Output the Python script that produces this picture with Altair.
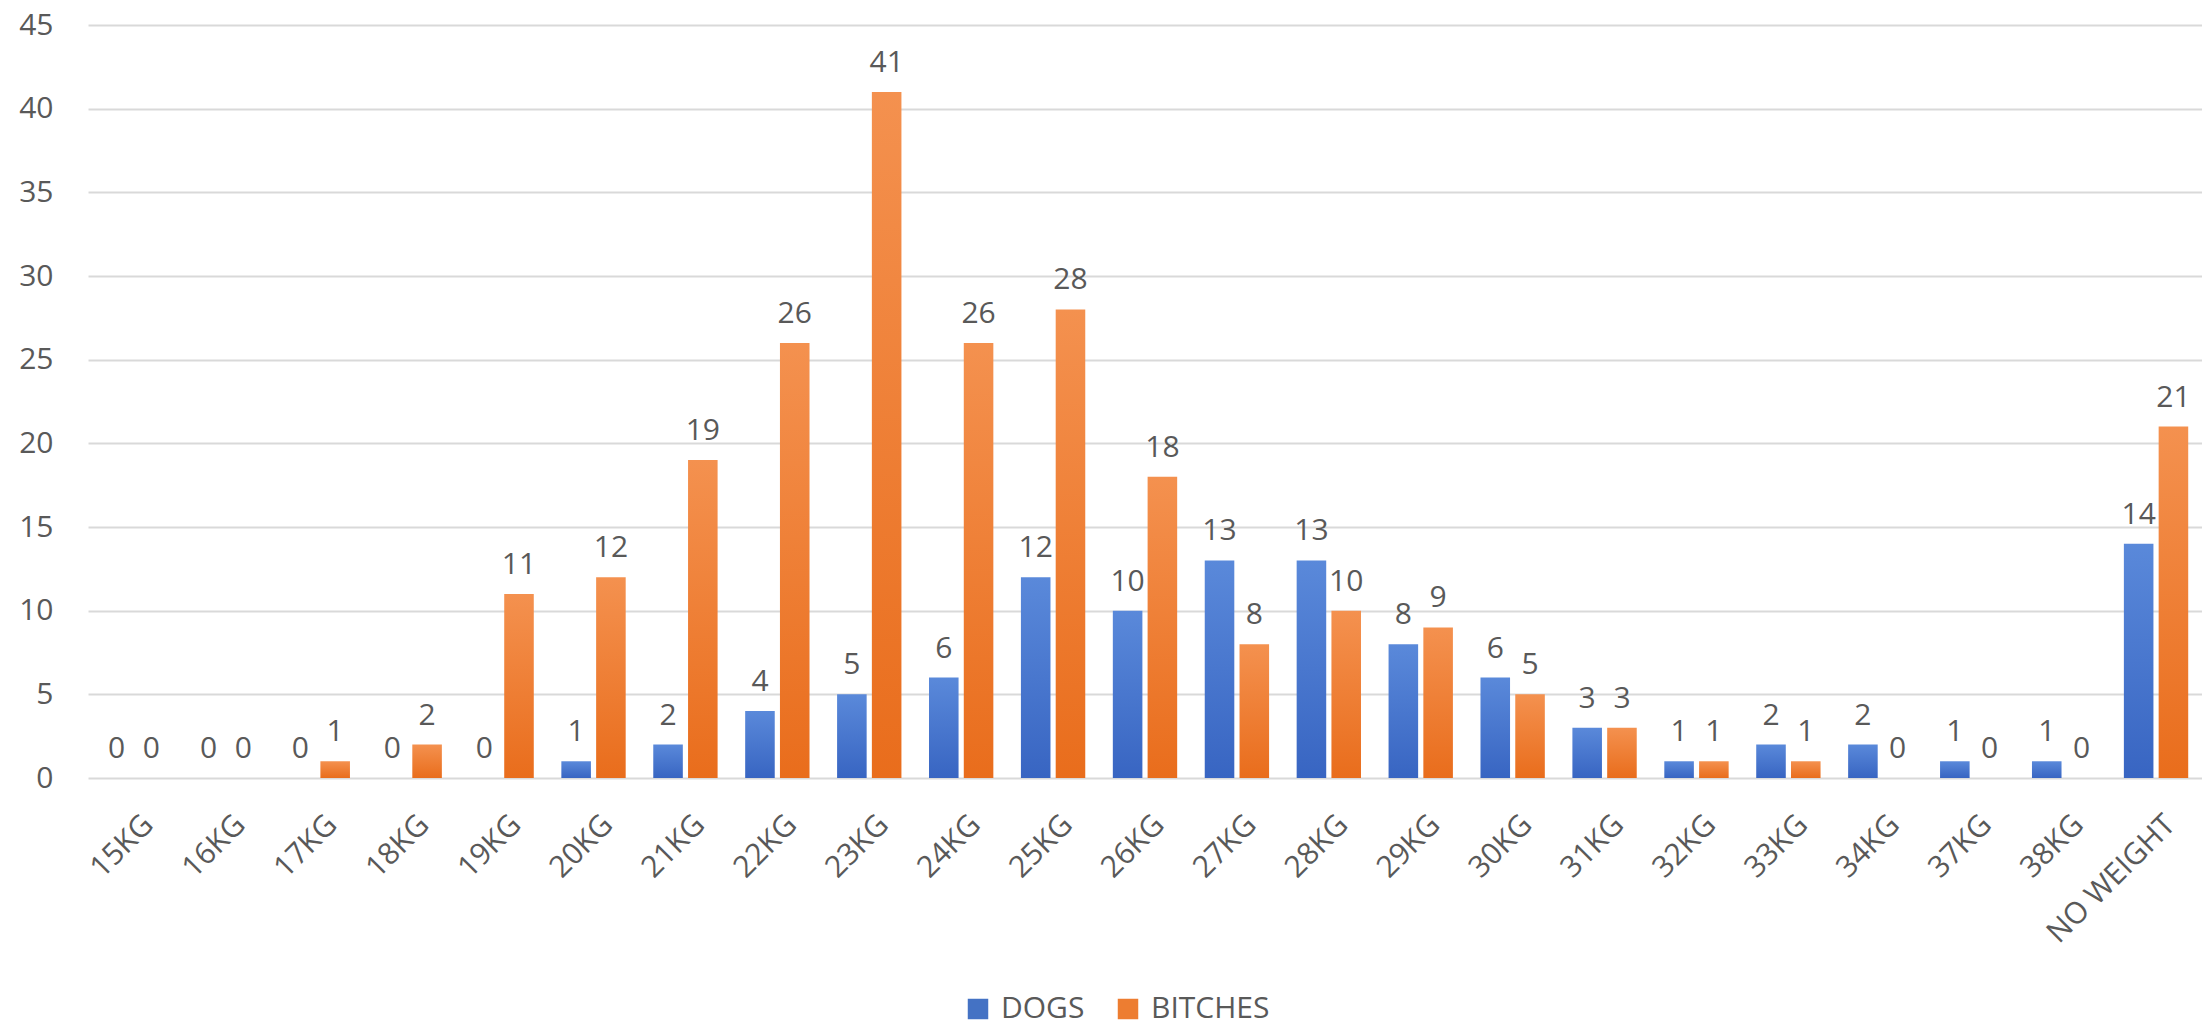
import altair as alt
import pandas as pd

categories = ["15KG", "16KG", "17KG", "18KG", "19KG", "20KG", "21KG", "22KG", "23KG",
              "24KG", "25KG", "26KG", "27KG", "28KG", "29KG", "30KG", "31KG", "32KG",
              "33KG", "34KG", "37KG", "38KG", "NO WEIGHT"]
dogs = [0, 0, 0, 0, 0, 1, 2, 4, 5, 6, 12, 10, 13, 13, 8, 6, 3, 1, 2, 2, 1, 1, 14]
bitches = [0, 0, 1, 2, 11, 12, 19, 26, 41, 26, 28, 18, 8, 10, 9, 5, 3, 1, 1, 0, 0, 0, 21]
series = ["DOGS", "BITCHES"]
y_ticks = [0, 5, 10, 15, 20, 25, 30, 35, 40, 45]

rows = []
for c, d, b in zip(categories, dogs, bitches):
    rows.append({"cat": c, "series": "DOGS", "value": d})
    rows.append({"cat": c, "series": "BITCHES", "value": b})
df = pd.DataFrame(rows)

FONT = "Open Sans"
TXT = "#595959"
FS = 30

x_enc = alt.X("cat:N", sort=categories,
              scale=alt.Scale(paddingInner=0.3, paddingOuter=0.15),
              axis=alt.Axis(title=None, labelAngle=-45, labelFontSize=FS, labelColor=TXT,
                            labelFont=FONT, ticks=False, domain=False, grid=False,
                            labelPadding=31, labelOffset=4))
y_enc = alt.Y("value:Q",
              scale=alt.Scale(domain=[0, 45], nice=False),
              axis=alt.Axis(title=None, values=y_ticks, labelFontSize=FS, labelColor=TXT,
                            labelFont=FONT, ticks=False, domain=False, grid=True,
                            gridColor="#d9d9d9", gridWidth=2, labelPadding=35))
xoff = alt.XOffset("series:N", sort=series,
                   scale=alt.Scale(domain=series, paddingInner=0.15, paddingOuter=0.0))

blue_grad = alt.Gradient(gradient="linear",
                         stops=[alt.GradientStop(color="#5a89da", offset=0),
                                alt.GradientStop(color="#3865c2", offset=1)],
                         x1=1, x2=1, y1=0, y2=1)
orange_grad = alt.Gradient(gradient="linear",
                           stops=[alt.GradientStop(color="#f4914f", offset=0),
                                  alt.GradientStop(color="#e96d1c", offset=1)],
                           x1=1, x2=1, y1=0, y2=1)

base = alt.Chart(df)

dog_bars = base.transform_filter(alt.datum.series == "DOGS").mark_bar(color=blue_grad).encode(
    x=x_enc, y=y_enc, xOffset=xoff)
bitch_bars = base.transform_filter(alt.datum.series == "BITCHES").mark_bar(color=orange_grad).encode(
    x=x_enc, y=y_enc, xOffset=xoff)

labels = base.mark_text(font=FONT, fontSize=FS, color=TXT, baseline="alphabetic", dy=-20).encode(
    x=x_enc, y=y_enc, xOffset=xoff, text=alt.Text("value:Q"))

legend_layer = base.mark_square(opacity=0, size=10).encode(
    x=x_enc, y=y_enc, xOffset=xoff,
    color=alt.Color("series:N", sort=series,
                    scale=alt.Scale(domain=series, range=["#4472c4", "#ed7d31"]),
                    legend=alt.Legend(title=None, orient="none", direction="horizontal",
                                      legendX=875, legendY=969, symbolType="square",
                                      symbolSize=420, symbolOpacity=1, symbolStrokeWidth=0,
                                      labelFontSize=FS, labelFont=FONT, labelColor=TXT,
                                      labelOffset=8, columnPadding=28)))

chart = alt.layer(dog_bars, bitch_bars, labels, legend_layer).properties(
    width=2114, height=753,
    autosize=alt.AutoSizeParams(type="none"),
    padding={"left": 80, "top": 17, "right": 0, "bottom": 244},
    background="white",
).configure_view(stroke=None)

chart.save("out.html", embed_options={"renderer": "svg", "actions": False})
